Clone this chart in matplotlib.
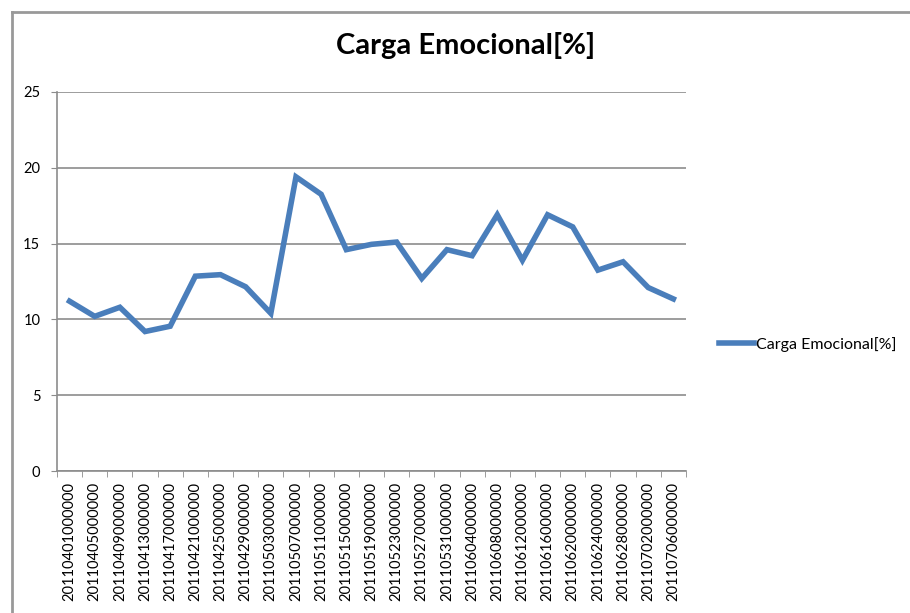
import matplotlib
matplotlib.use('Agg')
import matplotlib.pyplot as plt
from matplotlib.lines import Line2D
from matplotlib.ticker import FixedLocator

plt.rcParams['font.family'] = ['Lato', 'DejaVu Sans']

# datos
fechas = ['20110401000000', '20110405000000', '20110409000000', '20110413000000',
          '20110417000000', '20110421000000', '20110425000000', '20110429000000',
          '20110503000000', '20110507000000', '20110511000000', '20110515000000',
          '20110519000000', '20110523000000', '20110527000000', '20110531000000',
          '20110604000000', '20110608000000', '20110612000000', '20110616000000',
          '20110620000000', '20110624000000', '20110628000000', '20110702000000',
          '20110706000000']
carga = [11.2, 10.2, 10.8, 9.2, 9.55, 12.85, 12.95, 12.15, 10.4, 19.4,
         18.25, 14.6, 14.95, 15.1, 12.7, 14.6, 14.2, 16.9, 13.9, 16.9,
         16.1, 13.25, 13.8, 12.1, 11.35]
y_ticks = [0, 5, 10, 15, 20, 25]

fig = plt.figure(figsize=(9.1, 6.13), dpi=100)
ax = fig.add_axes([0.0626, 0.2316, 0.6912, 0.6184])

x = list(range(len(fechas)))
ax.plot(x, carga, color='#4A7EBB', linewidth=4, solid_joinstyle='miter',
        label='Carga Emocional[%]')

ax.set_xlim(-0.5, len(fechas) - 0.5)
ax.set_ylim(0, 25)
ax.set_yticks(y_ticks)
ax.grid(axis='y', color='#8c8c8c', linewidth=1.2)
ax.set_axisbelow(True)

ax.set_xticks(x)
ax.set_xticklabels(fechas, rotation=90, fontsize=10.5)
ax.xaxis.set_minor_locator(FixedLocator([i - 0.5 for i in range(len(fechas) + 1)]))
ax.tick_params(axis='x', which='major', length=0, pad=8)
ax.tick_params(axis='x', which='minor', length=4, color='#8c8c8c', direction='out')
ax.tick_params(axis='y', length=4, color='#8c8c8c', labelsize=10.5, pad=8)

for s in ['top', 'right']:
    ax.spines[s].set_visible(False)
for s in ['left', 'bottom']:
    ax.spines[s].set_color('#8c8c8c')
    ax.spines[s].set_linewidth(1.2)

fig.text(0.512, 0.925, 'Carga Emocional[%]', ha='center', va='center',
         fontsize=21, fontweight='bold')

ax.legend(loc='center left', bbox_to_anchor=(1.04, 0.335), frameon=False,
          fontsize=11.5, handlelength=2.2, handletextpad=0.1, borderpad=0)

# marco del gráfico
bx = 11.5 / 910
by = 1 - 11.5 / 613
fig.add_artist(Line2D([bx, bx], [0, by], color='#999999', linewidth=2))
fig.add_artist(Line2D([bx, 1], [by, by], color='#999999', linewidth=2))

fig.savefig('out.png', dpi=100)
